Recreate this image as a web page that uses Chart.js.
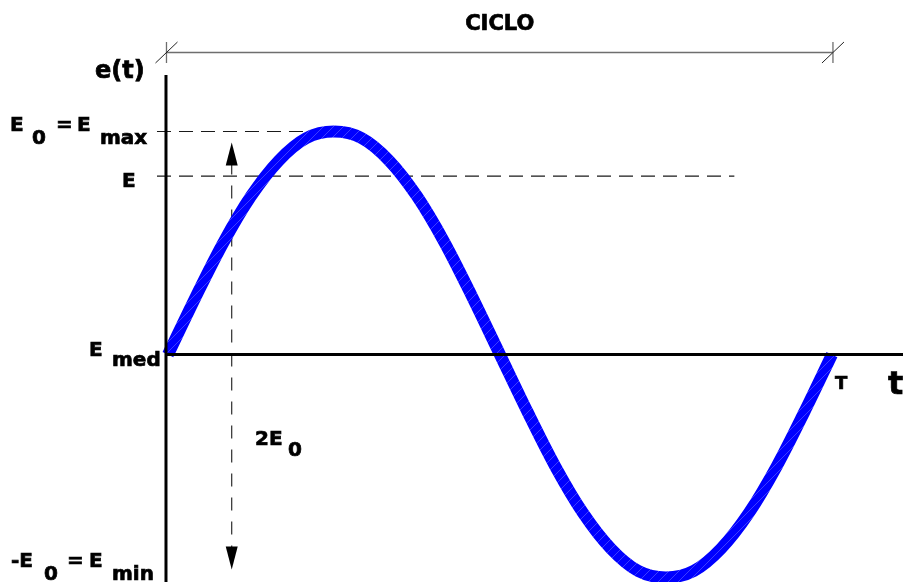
<!DOCTYPE html>
<html>
<head>
<meta charset="utf-8">
<script src="https://cdn.jsdelivr.net/npm/chart.js@4.4.0/dist/chart.umd.min.js"></script>
<style>
  html, body { margin: 0; padding: 0; background: #fff; }
  #wrap { width: 903px; height: 582px; }
</style>
</head>
<body>
<div id="wrap"><canvas id="waveChart" width="903" height="582"></canvas></div>
<script>
// one period of e(t), t given as a fraction of T
const tValues = [0, 0.042, 0.083, 0.125, 0.167, 0.208, 0.25, 0.292, 0.333, 0.375, 0.417, 0.458,
  0.5, 0.542, 0.583, 0.625, 0.667, 0.708, 0.75, 0.792, 0.833, 0.875, 0.917, 0.958, 1];
const eValues = [0, 0.26, 0.5, 0.71, 0.87, 0.97, 1, 0.97, 0.87, 0.71, 0.5, 0.26,
  0, -0.26, -0.5, -0.71, -0.87, -0.97, -1, -0.97, -0.87, -0.71, -0.5, -0.26, 0];

// reference levels on the e(t) axis
const eMax = 1;
const eLevel = 0.8;
const eMed = 0;
const eMin = -1;
const eLevelEnd = 0.853;  // where the dashed E line stops (in T)
const arrowT = 0.096;     // position of the 2E0 arrow (in T)
const cycleStart = 0;
const cycleEnd = 1;

const FONT = '"DejaVu Sans", Verdana, sans-serif';

// blue stroke with the faint hatching seen in the picture
function hatchPattern(ctx) {
  const c = document.createElement('canvas');
  c.width = 10; c.height = 10;
  const p = c.getContext('2d');
  p.fillStyle = '#0000ff';
  p.fillRect(0, 0, 10, 10);
  p.strokeStyle = 'rgba(150,150,255,0.4)';
  p.lineWidth = 1;
  p.beginPath();
  p.moveTo(0, 10); p.lineTo(10, 0);
  p.stroke();
  return ctx.createPattern(c, 'repeat');
}

function txt(ctx, s, x, y, size, align) {
  ctx.font = 'bold ' + size + 'px ' + FONT;
  ctx.textAlign = align || 'left';
  ctx.textBaseline = 'alphabetic';
  ctx.fillStyle = '#000';
  ctx.strokeStyle = '#000';
  ctx.lineWidth = 0.7;
  ctx.setLineDash([]);
  ctx.fillText(s, x, y);
  ctx.strokeText(s, x, y);
}

function line(ctx, x1, y1, x2, y2) {
  ctx.beginPath();
  ctx.moveTo(x1, y1);
  ctx.lineTo(x2, y2);
  ctx.stroke();
}

const guides = {
  id: 'guides',
  beforeDatasetsDraw(chart) {
    const ctx = chart.ctx;
    const xs = chart.scales.x, ys = chart.scales.y;
    const x0 = xs.getPixelForValue(cycleStart);
    ctx.save();
    ctx.strokeStyle = '#1a1a1a';
    ctx.lineWidth = 1.1;
    ctx.setLineDash([14, 8]);
    line(ctx, x0 - 11, ys.getPixelForValue(eMax), xs.getPixelForValue(0.25), ys.getPixelForValue(eMax));
    line(ctx, x0 - 11, ys.getPixelForValue(eLevel), xs.getPixelForValue(eLevelEnd), ys.getPixelForValue(eLevel));
    // 2E0 arrow shaft
    const ax = xs.getPixelForValue(arrowT);
    ctx.setLineDash([13, 11]);
    line(ctx, ax, ys.getPixelForValue(eMax) + 30, ax, ys.getPixelForValue(eMin) - 30);
    ctx.setLineDash([]);
    ctx.restore();
  },
  afterDatasetsDraw(chart) {
    const ctx = chart.ctx;
    const xs = chart.scales.x, ys = chart.scales.y;
    const x0 = xs.getPixelForValue(cycleStart) - 2;
    const xT = xs.getPixelForValue(cycleEnd);
    const yMed = ys.getPixelForValue(eMed);
    const yMax = ys.getPixelForValue(eMax);
    const yMin = ys.getPixelForValue(eMin);
    const yE = ys.getPixelForValue(eLevel);
    ctx.save();

    // axes
    ctx.strokeStyle = '#000';
    ctx.lineWidth = 3;
    line(ctx, x0, 75, x0, chart.height);
    line(ctx, x0, yMed, chart.width, yMed);

    // arrow heads of 2E0
    const ax = xs.getPixelForValue(arrowT);
    ctx.fillStyle = '#000';
    ctx.beginPath();
    ctx.moveTo(ax, yMax + 11); ctx.lineTo(ax - 6, yMax + 34); ctx.lineTo(ax + 6, yMax + 34);
    ctx.closePath(); ctx.fill();
    ctx.beginPath();
    ctx.moveTo(ax, yMin - 8); ctx.lineTo(ax - 6, yMin - 31); ctx.lineTo(ax + 6, yMin - 31);
    ctx.closePath(); ctx.fill();

    // CICLO dimension line
    const xa = x0 + 0.5, xb = xT + 1;
    ctx.strokeStyle = '#6e6e6e';
    ctx.lineWidth = 1.6;
    line(ctx, xa, 52.5, xb, 52.5);
    ctx.lineWidth = 1.3;
    line(ctx, xa, 42, xa, 63);
    line(ctx, xb, 42, xb, 63);
    ctx.strokeStyle = '#222';
    ctx.lineWidth = 1;
    line(ctx, xa - 11, 63, xa + 11, 42);
    line(ctx, xb - 11, 63, xb + 11, 42);
    txt(ctx, 'CICLO', (xa + xb) / 2, 30, 21, 'center');

    // labels
    txt(ctx, 'e(t)', 95, 78, 24);
    txt(ctx, 'E', 10, yMax - 1, 20);
    txt(ctx, '0', 32, yMax + 12, 20);
    txt(ctx, '=', 56, yMax - 1, 20);
    txt(ctx, 'E', 77, yMax - 1, 20);
    txt(ctx, 'max', 100, yMax + 12, 20);
    txt(ctx, 'E', 122, yE + 11, 20);
    txt(ctx, 'E', 89, yMed + 1, 20);
    txt(ctx, 'med', 112, yMed + 11, 20);
    txt(ctx, 'T', xT + 3, yMed + 34, 18);
    txt(ctx, 't', 888, yMed + 39, 32);
    txt(ctx, '2E', 255, 445, 20);
    txt(ctx, '0', 288, 456, 20);
    txt(ctx, '-E', 11, yMin - 11, 20);
    txt(ctx, '0', 44, yMin + 2, 20);
    txt(ctx, '=', 67, yMin - 11, 20);
    txt(ctx, 'E', 89, yMin - 11, 20);
    txt(ctx, 'min', 112, yMin + 2, 20);
    ctx.restore();
  }
};

const canvas = document.getElementById('waveChart');
const ctx2d = canvas.getContext('2d');

new Chart(canvas, {
  type: 'line',
  data: {
    datasets: [{
      data: tValues.map((t, i) => ({ x: t, y: eValues[i] })),
      borderColor: hatchPattern(ctx2d),
      borderWidth: 12,
      borderCapStyle: 'butt',
      cubicInterpolationMode: 'monotone',
      pointRadius: 0,
      fill: false,
      clip: false
    }]
  },
  options: {
    responsive: false,
    animation: false,
    events: [],
    layout: { padding: 0 },
    plugins: { legend: { display: false }, tooltip: { enabled: false } },
    scales: {
      x: { type: 'linear', min: -0.253, max: 1.107, display: false },
      y: { type: 'linear', min: -1.02, max: 1.59, display: false }
    }
  },
  plugins: [guides]
});
</script>
</body>
</html>
